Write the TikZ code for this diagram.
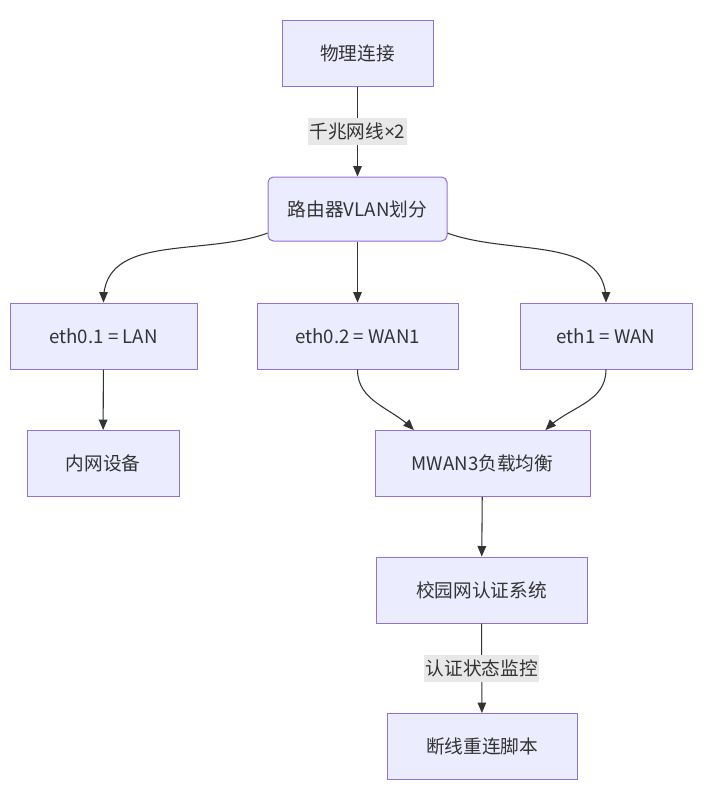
\documentclass[tikz,border=0pt]{standalone}
\usepackage{fontspec}
\setmainfont{Noto Sans CJK SC}
\newfontfamily\latinfont{Noto Sans}
\usetikzlibrary{arrows}
\definecolor{boxfill}{RGB}{236,236,255}
\definecolor{boxline}{RGB}{147,112,219}
\definecolor{txt}{RGB}{51,51,51}
\definecolor{lblbg}{RGB}{232,232,232}
\tikzset{
	box/.style = {
		rectangle,
		align=center,
		draw=boxline,
		fill=boxfill,
		text=txt,
		line width=0.75pt,
		minimum height=49.5pt,
		inner sep=0pt,
		font=\fontsize{14pt}{16pt}\selectfont
	},
	box_round/.style = {
		box,
		rounded corners=4pt,
		minimum height=48pt
	},
	edge_label/.style = {
		fill=lblbg,
		text=txt,
		inner xsep=1pt,
		inner ysep=3.5pt,
		font=\fontsize{14pt}{16pt}\selectfont
	},
	link/.style = {
		->,
		draw=txt,
		line width=0.8pt
	}
}

\begin{document}
\begin{tikzpicture}[x=0.75pt, y=0.75pt, >=triangle 45]
\useasboundingbox (0,0) rectangle (710,-789);
% nodes
\node [box, minimum width=113.25pt] (phys) at (357.5,-53) {物理连接};
\node [box_round, minimum width=134.25pt] (router) at (357.5,-209) {路由器VLAN划分};
\node [box, minimum width=140.25pt] (eth01) at (103.5,-336) {eth0.1 = LAN};
\node [box, minimum width=150.75pt] (eth02) at (357.5,-336) {eth0.2 = WAN1};
\node [box, minimum width=129pt] (eth1) at (606,-336) {eth1 = WAN};
\node [box, minimum width=114pt] (lan) at (103,-463.5) {内网设备};
\node [box, minimum width=161.25pt] (mwan) at (482.5,-463.5) {MWAN3负载均衡};
\node [box, minimum width=158.25pt] (campus) at (481.5,-590) {校园网认证系统};
\node [box, minimum width=142.5pt] (redial) at (482,-746.5) {断线重连脚本};

% edges
\draw [link] (phys) -- node [edge_label] {千兆网线{\latinfont ×}2} (router);
\draw [link] (router.195) to [out=200, in=90] (eth01.north);
\draw [link] (router) -- (eth02);
\draw [link] (router.-15) to [out=-20, in=90] (eth1.north);
\draw [link] (eth01) -- (lan);
\draw [link] (eth02.south) to [out=-90, in=135] (mwan.154);
\draw [link] (eth1.south) to [out=-90, in=45] (mwan.28);
\draw [link] (mwan) -- (campus);
\draw [link] (campus) -- node [edge_label] {认证状态监控} (redial);
\end{tikzpicture}
\end{document}
